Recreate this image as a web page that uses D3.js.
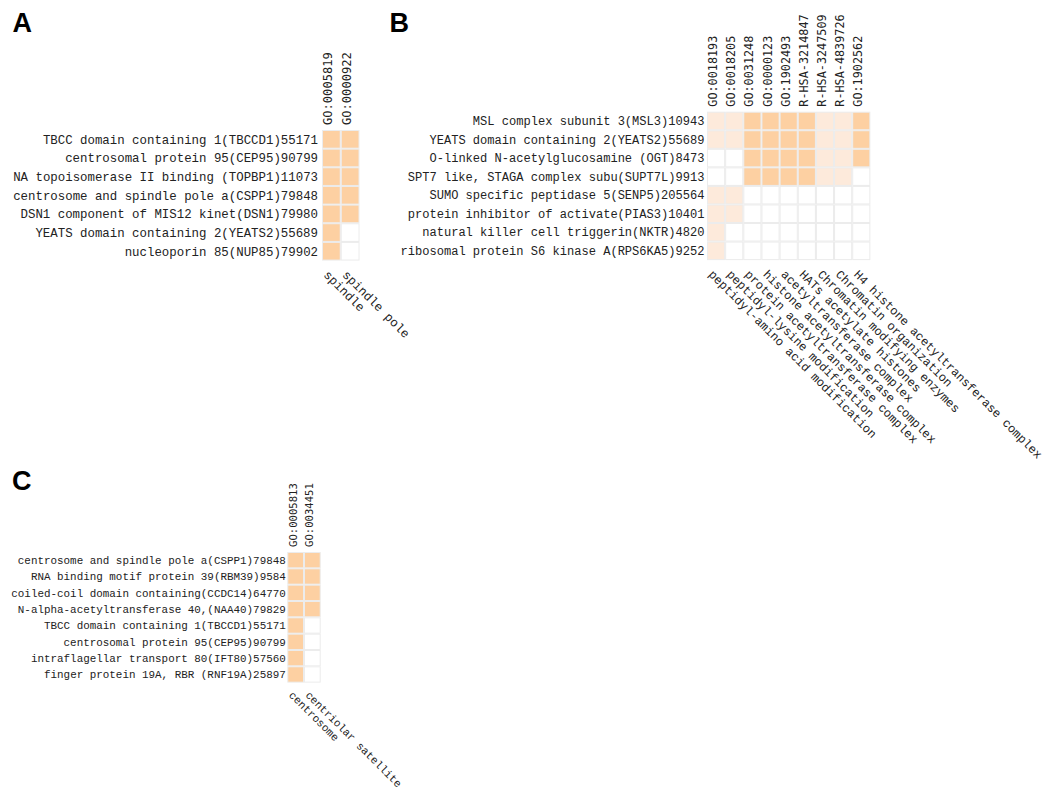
<!DOCTYPE html>
<html>
<head>
<meta charset="utf-8">
<script src="https://cdn.jsdelivr.net/npm/d3@7"></script>
<style>
  html, body { margin: 0; padding: 0; background: #fff; }
  svg { display: block; }
</style>
</head>
<body>
<svg id="chart" width="1043" height="791"></svg>
<script>
// ---------------- Panel A data ----------------
const rowsA = [
  "TBCC domain containing 1(TBCCD1)55171",
  "centrosomal protein 95(CEP95)90799",
  "NA topoisomerase II binding (TOPBP1)11073",
  "centrosome and spindle pole a(CSPP1)79848",
  "DSN1 component of MIS12 kinet(DSN1)79980",
  "YEATS domain containing 2(YEATS2)55689",
  "nucleoporin 85(NUP85)79902"
];
const colIdsA = ["GO:0005819", "GO:0000922"];
const colNamesA = ["spindle", "spindle pole"];
const valuesA = [
  [2, 2],
  [2, 2],
  [2, 2],
  [2, 2],
  [2, 2],
  [2, 0],
  [2, 0]
];

// ---------------- Panel B data ----------------
const rowsB = [
  "MSL complex subunit 3(MSL3)10943",
  "YEATS domain containing 2(YEATS2)55689",
  "O-linked N-acetylglucosamine (OGT)8473",
  "SPT7 like, STAGA complex subu(SUPT7L)9913",
  "SUMO specific peptidase 5(SENP5)205564",
  "protein inhibitor of activate(PIAS3)10401",
  "natural killer cell triggerin(NKTR)4820",
  "ribosomal protein S6 kinase A(RPS6KA5)9252"
];
const colIdsB = ["GO:0018193", "GO:0018205", "GO:0031248", "GO:0000123", "GO:1902493",
                 "R-HSA-3214847", "R-HSA-3247509", "R-HSA-4839726", "GO:1902562"];
const colNamesB = ["peptidyl-amino acid modification", "peptidyl-lysine modification",
                   "protein acetyltransferase complex", "histone acetyltransferase complex",
                   "acetyltransferase complex", "HATs acetylate histones",
                   "Chromatin modifying enzymes", "Chromatin organization",
                   "H4 histone acetyltransferase complex"];
const valuesB = [
  [1, 1, 2, 2, 2, 2, 1, 1, 2],
  [1, 1, 2, 2, 2, 2, 1, 1, 2],
  [0, 0, 2, 2, 2, 2, 1, 1, 2],
  [0, 0, 2, 2, 2, 2, 1, 1, 0],
  [1, 1, 0, 0, 0, 0, 0, 0, 0],
  [1, 1, 0, 0, 0, 0, 0, 0, 0],
  [1, 0, 0, 0, 0, 0, 0, 0, 0],
  [1, 0, 0, 0, 0, 0, 0, 0, 0]
];

// ---------------- Panel C data ----------------
const rowsC = [
  "centrosome and spindle pole a(CSPP1)79848",
  "RNA binding motif protein 39(RBM39)9584",
  "coiled-coil domain containing(CCDC14)64770",
  "N-alpha-acetyltransferase 40,(NAA40)79829",
  "TBCC domain containing 1(TBCCD1)55171",
  "centrosomal protein 95(CEP95)90799",
  "intraflagellar transport 80(IFT80)57560",
  "finger protein 19A, RBR (RNF19A)25897"
];
const colIdsC = ["GO:0005813", "GO:0034451"];
const colNamesC = ["centrosome", "centriolar satellite"];
const valuesC = [
  [2, 2],
  [2, 2],
  [2, 2],
  [2, 2],
  [2, 0],
  [2, 0],
  [2, 0],
  [2, 0]
];

const panelLetters = ["A", "B", "C"];

// ---------------- drawing ----------------
const svg = d3.select("#chart");
const color = d3.scaleOrdinal().domain([0, 1, 2]).range(["#ffffff", "#fdeadb", "#fdd0a2"]);
const rowFont = "'Courier New', 'Liberation Mono', monospace";
const colFont = "'DejaVu Sans Mono', monospace";

function drawPanel(p) {
  const g = svg.append("g");
  const x = d3.scaleBand().domain(d3.range(p.colIds.length))
    .range([p.x0, p.x0 + p.cw * p.colIds.length]).padding(0);
  const y = d3.scaleBand().domain(d3.range(p.rows.length))
    .range([p.y0, p.y0 + p.ch * p.rows.length]).padding(0);

  const cells = [];
  p.values.forEach((r, i) => r.forEach((v, j) => cells.push({i, j, v})));

  g.selectAll("rect.cell").data(cells).enter().append("rect")
    .attr("class", "cell")
    .attr("x", d => x(d.j) + 0.5)
    .attr("y", d => y(d.i) + 0.5)
    .attr("width", x.bandwidth() - 1)
    .attr("height", y.bandwidth() - 1)
    .attr("fill", d => color(d.v))
    .attr("stroke", "#ececec")
    .attr("stroke-width", 1);

  // row labels
  g.selectAll("text.row").data(p.rows).enter().append("text")
    .attr("class", "row")
    .attr("x", p.x0 - p.rowGap)
    .attr("y", (d, i) => y(i) + y.bandwidth() / 2)
    .attr("dy", "0.35em")
    .attr("text-anchor", "end")
    .style("font-family", rowFont)
    .style("font-size", p.rowFs + "px")
    .attr("fill", "#222")
    .text(d => d);

  // top column labels (IDs)
  g.selectAll("text.colid").data(p.colIds).enter().append("text")
    .attr("class", "colid")
    .attr("transform", (d, j) => `translate(${x(j) + x.bandwidth() / 2 + 1},${p.y0 - 5}) rotate(-90)`)
    .attr("text-anchor", "start")
    .style("font-family", colFont)
    .style("font-size", p.colFs + "px")
    .attr("fill", "#222")
    .text(d => d);

  // bottom column labels (names)
  const yb = p.y0 + p.ch * p.rows.length;
  g.selectAll("text.colname").data(p.colNames).enter().append("text")
    .attr("class", "colname")
    .attr("transform", (d, j) => `translate(${x(j) + 1},${yb + p.botGap}) rotate(45)`)
    .attr("text-anchor", "start")
    .style("font-family", rowFont)
    .style("font-size", p.rowFs + "px")
    .attr("fill", "#222")
    .text(d => d);

  // panel letter
  svg.append("text")
    .attr("x", p.lx).attr("y", p.ly)
    .style("font-family", "'Liberation Sans', Arial, Helvetica, sans-serif")
    .style("font-weight", "bold")
    .style("font-size", "27px")
    .attr("fill", "#000")
    .text(p.letter);
}

drawPanel({letter: panelLetters[0], lx: 12.5, ly: 32.3,
  rows: rowsA, colIds: colIdsA, colNames: colNamesA, values: valuesA,
  x0: 322, y0: 130, cw: 18.75, ch: 18.65, rowFs: 12.4, colFs: 12.1, rowGap: 4, botGap: 15});

drawPanel({letter: panelLetters[1], lx: 389.5, ly: 32.3,
  rows: rowsB, colIds: colIdsB, colNames: colNamesB, values: valuesB,
  x0: 707, y0: 111.7, cw: 18.15, ch: 18.55, rowFs: 12.07, colFs: 11.8, rowGap: 2.5, botGap: 15});

drawPanel({letter: panelLetters[2], lx: 12, ly: 490,
  rows: rowsC, colIds: colIdsC, colNames: colNamesC, values: valuesC,
  x0: 287.3, y0: 552, cw: 16.7, ch: 16.33, rowFs: 10.9, colFs: 10.6, rowGap: 1.5, botGap: 13});
</script>
</body>
</html>
